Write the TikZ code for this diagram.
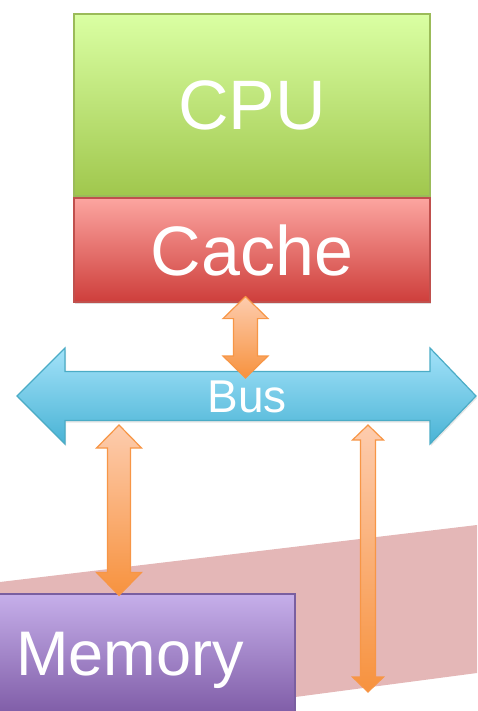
\documentclass[tikz,border=0pt]{standalone}
\usepackage{fontspec}
\setmainfont{Liberation Sans}
\usetikzlibrary{calc,shadows}

\definecolor{cpuTop}{HTML}{DAFFA3}
\definecolor{cpuBot}{HTML}{A0C74D}
\definecolor{cpuLine}{HTML}{9BBB59}
\definecolor{cacheTop}{HTML}{FCA5A0}
\definecolor{cacheBot}{HTML}{CE3E3B}
\definecolor{cacheLine}{HTML}{C0504D}
\definecolor{memTop}{HTML}{C6AFEA}
\definecolor{memBot}{HTML}{7E5BA6}
\definecolor{memLine}{HTML}{7A5FA0}
\definecolor{busTop}{HTML}{A3E2F9}
\definecolor{busBot}{HTML}{49B3D5}
\definecolor{busLine}{HTML}{4BACC6}
\definecolor{arrTop}{HTML}{FDCCAE}
\definecolor{arrBot}{HTML}{F7923E}
\definecolor{arrLine}{HTML}{F79646}
\definecolor{bandFill}{HTML}{E4B7B7}

\tikzset{
  unitbox/.style={rectangle, inner sep=0pt, text=white, line width=1.2pt,
    drop shadow={opacity=0.25, shadow xshift=1pt, shadow yshift=-2pt}},
  biglabel/.style={font=\fontsize{70}{80}\selectfont, text height=50pt, text depth=0pt},
  portarrow/.style={draw=arrLine, line width=1.2pt, line join=miter,
    top color=arrTop, bottom color=arrBot},
}

% vertical double-headed block arrow between two points
% #1 upper tip, #2 lower tip, #3 half shaft, #4 half head, #5 head length
\newcommand\portlink[5]{%
  \path[portarrow] let \p1=(#1), \p2=(#2) in
    (\x1,\y1) -- (\x1+#4,\y1-#5) -- (\x1+#3,\y1-#5) -- (\x1+#3,\y2+#5)
    -- (\x1+#4,\y2+#5) -- (\x1,\y2) -- (\x1-#4,\y2+#5) -- (\x1-#3,\y2+#5)
    -- (\x1-#3,\y1-#5) -- (\x1-#4,\y1-#5) -- cycle;}

\begin{document}
\begin{tikzpicture}[x=1pt,y=1pt]
\useasboundingbox (0,0) rectangle (477,-711);

\begin{scope}
  \clip (0,0) rectangle (477,-711);
  % backdrop band behind the memory side
  \fill[bandFill] (0,-582) -- (477,-525) -- (477,-673) -- (0,-736) -- cycle;
  % main memory
  \node[unitbox, draw=memLine, top color=memTop, bottom color=memBot,
        minimum width=330pt, minimum height=122pt,
        font=\fontsize{63}{72}\selectfont, text height=45pt, text depth=5pt]
        (mem) at (130,-655) {Memory};
\end{scope}

% processor and its cache
\node[unitbox, draw=cpuLine, top color=cpuTop, bottom color=cpuBot,
      minimum width=356pt, minimum height=182pt, biglabel] (cpu) at (252,-105) {CPU};
\node[unitbox, draw=cacheLine, top color=cacheTop, bottom color=cacheBot,
      minimum width=356pt, minimum height=104pt, biglabel] (cache) at (252,-250) {Cache};

% system bus
\path[draw=busLine, line width=1.2pt, top color=busTop, bottom color=busBot,
      drop shadow={opacity=0.2, shadow xshift=1pt, shadow yshift=-2pt}]
  (17,-396) -- (65,-348) -- (65,-371.5) -- (430,-371.5) -- (430,-348)
  -- (476,-396) -- (430,-444) -- (430,-420.5) -- (65,-420.5) -- (65,-444) -- cycle;
\node[text=white, font=\fontsize{46}{52}\selectfont, text height=33pt, text depth=0pt,
      inner sep=0pt] (bus) at (247,-396) {Bus};

% attachment points on the bus
\coordinate (cacheTap) at ($(cache.south)+(-6.5,6)$);
\coordinate (busTapA)  at ($(bus.center)+(-1.5,18)$);
\coordinate (busTapB)  at ($(bus.center)+(-128,-29)$);
\coordinate (memTap)   at ($(mem.north)+(-11,-2)$);
\coordinate (busTapC)  at ($(bus.center)+(121,-29)$);
\coordinate (ioEnd)    at (368,-692);

% links onto the bus
\portlink{cacheTap}{busTapA}{12pt}{22.5pt}{22pt}
\portlink{busTapB}{memTap}{11.5pt}{22.5pt}{23pt}
\portlink{busTapC}{ioEnd}{7.5pt}{15.5pt}{15pt}
\end{tikzpicture}
\end{document}
